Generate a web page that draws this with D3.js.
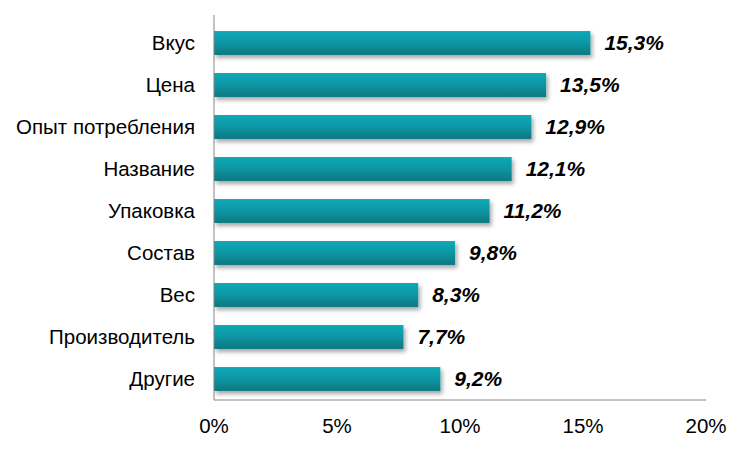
<!DOCTYPE html>
<html><head><meta charset="utf-8">
<script src="https://cdn.jsdelivr.net/npm/d3@7"></script>
<style>body{margin:0;background:#fff}</style>
</head><body>
<svg id="c" width="750" height="450"></svg>
<script>
const categories = ["Вкус","Цена","Опыт потребления","Название","Упаковка","Состав","Вес","Производитель","Другие"];
const values = [15.3,13.5,12.9,12.1,11.2,9.8,8.3,7.7,9.2];
const labels = ["15,3%","13,5%","12,9%","12,1%","11,2%","9,8%","8,3%","7,7%","9,2%"];
const ticks = [0,5,10,15,20];

const svg = d3.select("#c");
const x = d3.scaleLinear().domain([0,20]).range([214,706]);
const y = d3.scaleBand().domain(categories).range([22,400]).paddingInner(0.43).paddingOuter(0.215);
const font = "Liberation Sans, Arial, sans-serif";

const defs = svg.append("defs");
const g = defs.append("linearGradient").attr("id","bg").attr("x1",0).attr("y1",0).attr("x2",0).attr("y2",1);
g.append("stop").attr("offset","0%").attr("stop-color","#08a9b8");
g.append("stop").attr("offset","45%").attr("stop-color","#0a98a6");
g.append("stop").attr("offset","100%").attr("stop-color","#0b7880");
const f = defs.append("filter").attr("id","sh").attr("x","-5%").attr("y","-30%").attr("width","115%").attr("height","180%");
f.append("feDropShadow").attr("dx",2).attr("dy",3).attr("stdDeviation",2).attr("flood-color","#000").attr("flood-opacity",0.35);

svg.append("g").selectAll("rect").data(values).join("rect")
  .attr("x",x(0)).attr("y",(d,i)=>y(categories[i]))
  .attr("width",d=>x(d)-x(0)).attr("height",y.bandwidth())
  .attr("fill","url(#bg)").attr("filter","url(#sh)");

svg.append("line").attr("x1",x(0)).attr("x2",x(0)).attr("y1",15).attr("y2",400).attr("stroke","#868686");
svg.append("line").attr("x1",x(0)).attr("x2",x(20)).attr("y1",400).attr("y2",400).attr("stroke","#868686");

svg.append("g").selectAll("text").data(categories).join("text")
  .attr("x",195).attr("y",d=>y(d)+y.bandwidth()/2).attr("dy","0.35em")
  .attr("text-anchor","end").attr("font-family",font)
  .attr("font-size",20.5).attr("fill","#000").text(d=>d);

svg.append("g").selectAll("text").data(values).join("text")
  .attr("x",d=>x(d)+14).attr("y",(d,i)=>y(categories[i])+y.bandwidth()/2).attr("dy","0.35em")
  .attr("font-family",font).attr("font-weight","bold").attr("font-style","italic")
  .attr("font-size",21).attr("fill","#000").text((d,i)=>labels[i]);

svg.append("g").selectAll("text").data(ticks).join("text")
  .attr("x",d=>x(d)).attr("y",433).attr("text-anchor","middle")
  .attr("font-family",font).attr("font-size",20.5).attr("fill","#000")
  .text(d=>d+"%");
</script>
</body></html>
